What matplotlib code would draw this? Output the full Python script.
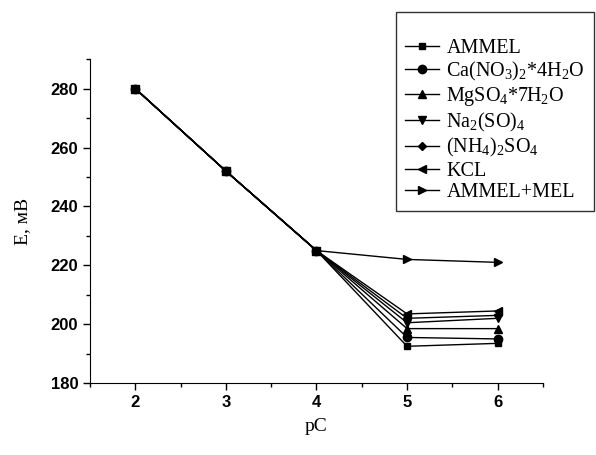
import matplotlib
matplotlib.use('Agg')
import matplotlib.pyplot as plt
from matplotlib.ticker import MultipleLocator

# данные
pc = [2, 3, 4, 5, 6]
labels = ['AMMEL', 'Ca(NO$_3$)$_2$*4H$_2$O', 'MgSO$_4$*7H$_2$O', 'Na$_2$(SO)$_4$',
          '(NH$_4$)$_2$SO$_4$', 'KCL', 'AMMEL+MEL']
markers = ['s', 'o', '^', 'v', 'D', '<', '>']

ammel = [280, 252, 225, 192.5, 193.5]
ca = [280, 252, 225, 195.5, 195]
mg = [280, 252, 225, 198.5, 198.5]
na = [280, 252, 225, 200.5, 202]
nh4 = [280, 252, 225, 202, 203]
kcl = [280, 252, 225, 203.5, 204.5]
ammel_mel = [280, 252, 225, 222, 221]
series = [ammel, ca, mg, na, nh4, kcl, ammel_mel]

plt.rcParams['mathtext.fontset'] = 'custom'
plt.rcParams['mathtext.rm'] = 'Liberation Serif'
plt.rcParams['mathtext.it'] = 'Liberation Serif:italic'

fig = plt.figure(figsize=(5.96, 4.55), dpi=100)
ax = fig.add_axes([0.151, 0.158, 0.760, 0.712])

handles = []
for i, (y, m, lab) in enumerate(zip(series, markers, labels)):
    ms = {'D': 4.5, 's': 4.8, 'o': 6.0}.get(m, 5.2)
    z = 5 if m == 'o' else 2  # кружки сверху в общих точках
    h, = ax.plot(pc, y, color='black', marker=m, markersize=ms, linewidth=1, label=lab, zorder=z)
    handles.append(h)

ax.set_xlim(1.5, 6.5)
ax.set_ylim(180, 290)
ax.xaxis.set_major_locator(MultipleLocator(1))
ax.xaxis.set_minor_locator(MultipleLocator(0.5))
ax.yaxis.set_major_locator(MultipleLocator(20))
ax.yaxis.set_minor_locator(MultipleLocator(10))
ax.spines['top'].set_visible(False)
ax.spines['right'].set_visible(False)
ax.tick_params(which='major', direction='out', length=5, width=1)
ax.tick_params(which='minor', direction='out', length=3, width=1)
for t in ax.get_xticklabels() + ax.get_yticklabels():
    t.set_fontfamily('Liberation Sans')
    t.set_fontweight('bold')
    t.set_fontsize(12)

ax.set_xlabel('pC', fontfamily='Liberation Serif', fontsize=14, labelpad=6)
ax.set_ylabel('E, мВ', fontfamily='Liberation Serif', fontsize=14, labelpad=14)

leg = fig.legend(handles=handles, loc='upper left', bbox_to_anchor=(396 / 596, 1 - 12 / 455),
                 prop={'family': 'Liberation Serif', 'size': 14.5}, frameon=True, fancybox=False,
                 edgecolor='black', handlelength=1.7, handletextpad=0.35, labelspacing=0.12,
                 borderpad=0.45, borderaxespad=0, title=' ', title_fontsize=11.5)
leg.get_frame().set_linewidth(1)

fig.savefig('out.png', dpi=100)
